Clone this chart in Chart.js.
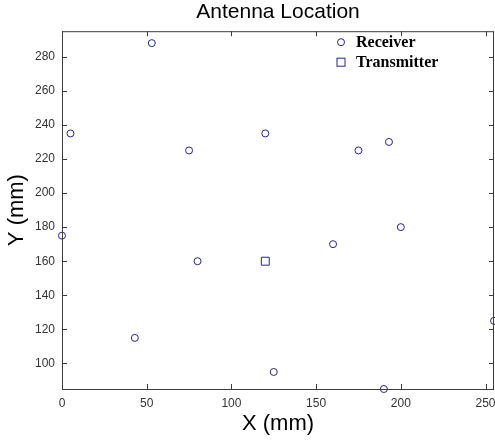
<!DOCTYPE html>
<html>
<head>
<meta charset="utf-8">
<script src="https://cdn.jsdelivr.net/npm/chart.js@4"></script>
<style>
  html, body { margin: 0; padding: 0; background: #fff; overflow: hidden; }
  #wrap { width: 495px; height: 442px; }
</style>
</head>
<body>
<div id="wrap"><canvas id="antennaChart" width="495" height="442"></canvas></div>
<script>
// ===== Data =====
const receiverX = [53, 5, 0, 75, 120, 175, 193, 200, 160, 80, 43, 125, 190, 255];
const receiverY = [288, 235, 175, 225, 235, 225, 230, 180, 170, 160, 115, 95, 85, 125];
const transmitterX = [120];
const transmitterY = [160];
const xTicks = [0, 50, 100, 150, 200, 250];
const yTicks = [100, 120, 140, 160, 180, 200, 220, 240, 260, 280];

const markerColor = '#25258a';
const axisFont = 'Arial, "Liberation Sans", sans-serif';

function toPoints(xs, ys) {
  return xs.map((x, i) => ({ x, y: ys[i] }));
}

// Matlab style box with inward ticks on all four sides
const boxPlugin = {
  id: 'box',
  afterDraw(chart) {
    const { ctx, chartArea: a, scales } = chart;
    const len = 5;
    ctx.save();
    ctx.strokeStyle = '#3c3c3c';
    ctx.lineWidth = 1;
    ctx.strokeRect(a.left + 0.5, a.top + 0.5, a.right - a.left - 1, a.bottom - a.top);
    ctx.beginPath();
    xTicks.forEach((v) => {
      const px = Math.round(scales.x.getPixelForValue(v)) + 0.5;
      ctx.moveTo(px, a.bottom);
      ctx.lineTo(px, a.bottom - len);
      ctx.moveTo(px, a.top);
      ctx.lineTo(px, a.top + len);
    });
    yTicks.forEach((v) => {
      const py = Math.round(scales.y.getPixelForValue(v)) + 0.5;
      ctx.moveTo(a.left, py);
      ctx.lineTo(a.left + len, py);
      ctx.moveTo(a.right, py);
      ctx.lineTo(a.right - len, py);
    });
    ctx.stroke();
    ctx.restore();
  },
};

// Legend drawn inside the plot, top right, from the dataset styles
const legendPlugin = {
  id: 'innerLegend',
  afterDraw(chart) {
    const { ctx, chartArea: a } = chart;
    ctx.save();
    ctx.font = 'bold 16px "Liberation Serif", "Times New Roman", serif';
    ctx.fillStyle = '#000';
    ctx.textBaseline = 'middle';
    chart.data.datasets.forEach((ds, i) => {
      const mx = a.left + 279;
      const my = a.top + 11 + i * 20;
      ctx.lineWidth = 1;
      ctx.strokeStyle = ds.borderColor;
      if (ds.pointStyle === 'rect') {
        ctx.strokeRect(mx - 4, my - 4, 8, 8);
      } else {
        ctx.beginPath();
        ctx.arc(mx, my, 3.5, 0, Math.PI * 2);
        ctx.stroke();
      }
      ctx.fillText(ds.label, mx + 15, my + 1);
    });
    ctx.restore();
  },
};

const ctx = document.getElementById('antennaChart').getContext('2d');
new Chart(ctx, {
  type: 'scatter',
  data: {
    datasets: [
      {
        label: 'Receiver',
        data: toPoints(receiverX, receiverY),
        pointStyle: 'circle',
        pointRadius: 3.5,
        borderWidth: 1,
        borderColor: markerColor,
        backgroundColor: 'rgba(0,0,0,0)',
        clip: false,
      },
      {
        label: 'Transmitter',
        data: toPoints(transmitterX, transmitterY),
        pointStyle: 'rect',
        pointRadius: 5.6,
        borderWidth: 1,
        borderColor: markerColor,
        backgroundColor: 'rgba(0,0,0,0)',
        clip: false,
      },
    ],
  },
  options: {
    responsive: false,
    animation: false,
    devicePixelRatio: 1,
    layout: { autoPadding: false, padding: { left: 0, right: 1, top: 0, bottom: 0 } },
    scales: {
      x: {
        type: 'linear',
        min: 0,
        max: 255,
        grid: { display: false, drawTicks: false },
        border: { display: false },
        ticks: {
          stepSize: 50,
          includeBounds: false,
          maxRotation: 0,
          padding: 7,
          color: '#333',
          font: { family: axisFont, size: 12 },
        },
        title: {
          display: true,
          text: 'X (mm)',
          color: '#000',
          font: { family: axisFont, size: 22 },
          padding: { top: 0, bottom: 5 },
        },
        afterFit: (s) => {
          s.height = 53;
          s.paddingLeft = 0;
          s.paddingRight = 0;
        },
      },
      y: {
        type: 'linear',
        min: 85,
        max: 295,
        grid: { display: false, drawTicks: false },
        border: { display: false },
        ticks: {
          stepSize: 20,
          includeBounds: false,
          padding: 7,
          color: '#333',
          font: { family: axisFont, size: 12 },
        },
        title: {
          display: true,
          text: 'Y (mm)',
          color: '#000',
          font: { family: axisFont, size: 22 },
          padding: { top: 4, bottom: 0 },
        },
        afterFit: (s) => {
          s.width = 62;
          s.paddingTop = 0;
          s.paddingBottom = 0;
        },
      },
    },
    plugins: {
      legend: { display: false },
      tooltip: { enabled: false },
      title: {
        display: true,
        text: 'Antenna Location',
        fullSize: false,
        color: '#000',
        font: { family: axisFont, size: 21, weight: 'normal' },
        padding: { top: 0, bottom: 6 },
      },
    },
  },
  plugins: [boxPlugin, legendPlugin],
});
</script>
</body>
</html>
